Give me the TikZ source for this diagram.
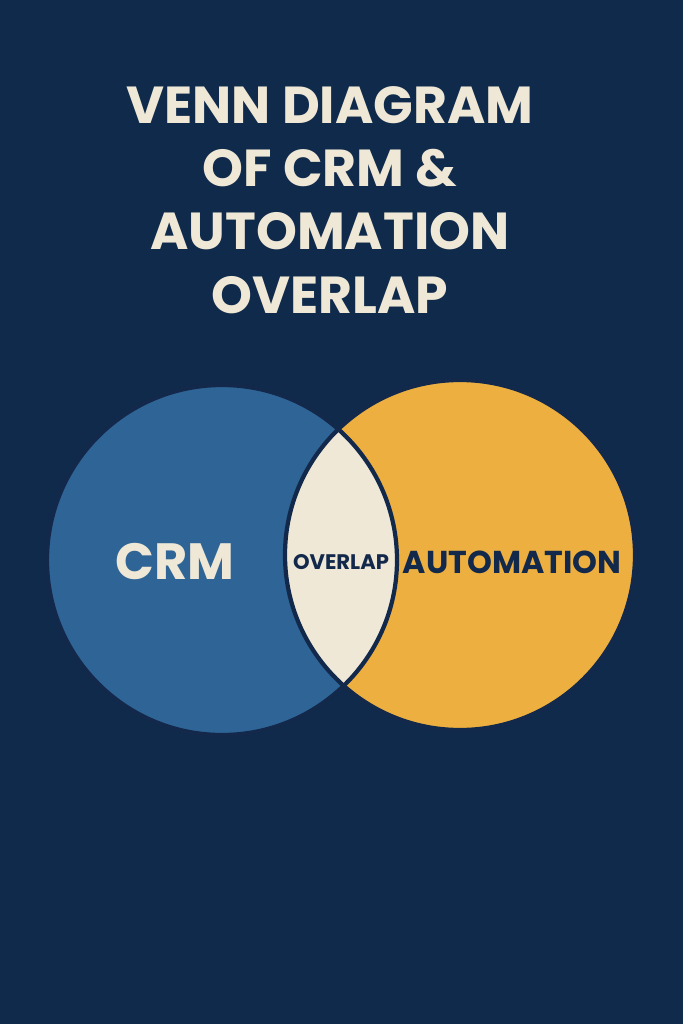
\documentclass[tikz,border=0pt]{standalone}
\usepackage{fontspec}
\setmainfont{Poppins}
\definecolor{bgnavy}{HTML}{0F2A4A}
\definecolor{crmblue}{HTML}{2F6496}
\definecolor{autoyellow}{HTML}{EDB040}
\definecolor{cream}{HTML}{EFE8D6}
\definecolor{inkblue}{HTML}{13294B}
\begin{document}
\begin{tikzpicture}[x=0.01cm,y=-0.01cm]
        \fill[bgnavy] (0,0) rectangle (683,1024);
        \useasboundingbox (0,0) rectangle (683,1024);
        \node[text=cream, align=center, font=\fontsize{14.8}{18}\selectfont\bfseries] (title) at (330,200)
            {VENN DIAGRAM\\OF CRM \&\\AUTOMATION\\OVERLAP};

        \fill[crmblue] (222,560) circle (175);
        \fill[autoyellow] (460,555) circle (175);
        \begin{scope}
            \clip (222,560) circle (175);
            \fill[cream] (460,555) circle (175);
        \end{scope}
        \draw[inkblue, line width=1.2pt] (222,560) circle (175);
        \draw[inkblue, line width=1.2pt] (460,555) circle (175);

        \node[text=cream, font=\fontsize{14.5}{18}\selectfont\bfseries] (crm) at (175,562) {CRM};
        \node[text=inkblue, font=\fontsize{6}{8}\selectfont\bfseries] (overlap) at (341,562) {OVERLAP};
        \node[text=inkblue, font=\fontsize{9}{12}\selectfont\bfseries] (automation) at (512,562) {AUTOMATION};
    \end{tikzpicture}
\end{document}
